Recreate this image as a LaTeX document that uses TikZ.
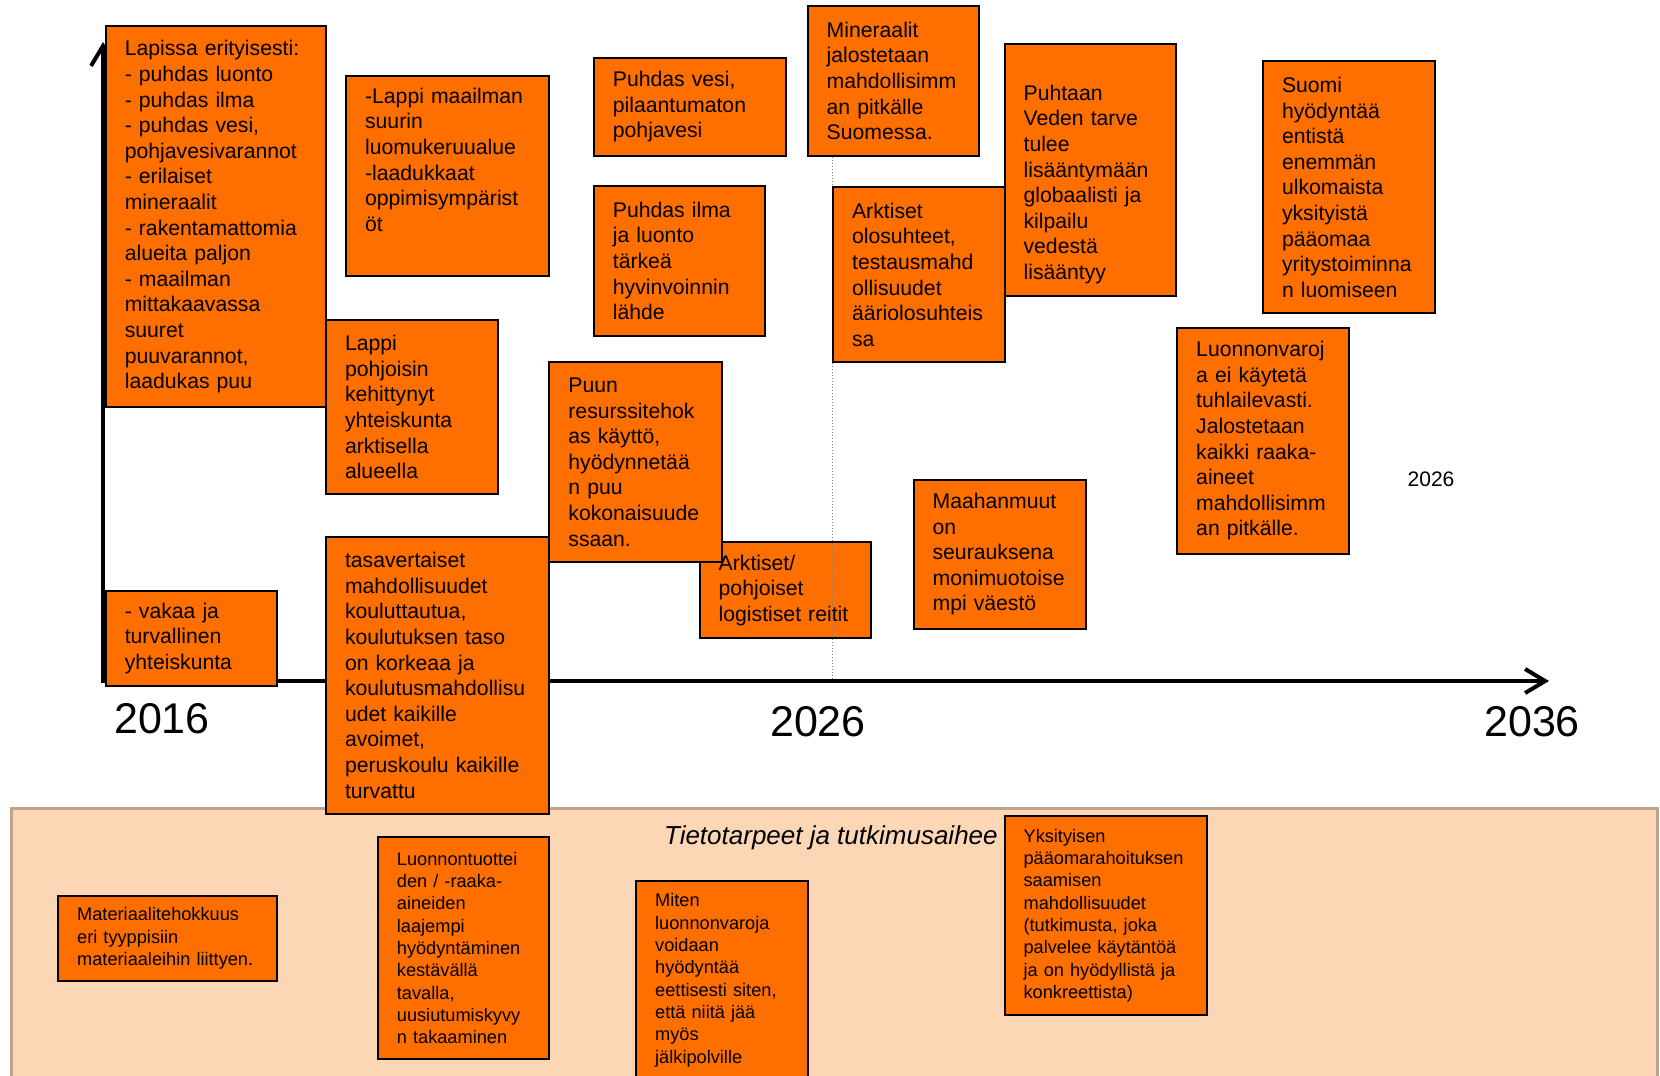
\documentclass[tikz,border=0pt]{standalone}
\usepackage{fontspec}
\setmainfont{Liberation Sans}
\usetikzlibrary{arrows.meta}

\definecolor{boxorange}{RGB}{255,111,0}
\definecolor{panelfill}{RGB}{253,214,182}
\definecolor{panelline}{RGB}{192,163,141}
\hyphenpenalty=10000
\exhyphenpenalty=10000

\tikzset{
  idea/.style={draw=black, line width=1pt, fill=boxorange, anchor=north west,
    inner xsep=1pt, inner ysep=0pt, align=left,
    font=\fontsize{10.6}{12.8}\selectfont,
    execute at begin node={\setlength{\leftskip}{8.5pt}}},
  need/.style={idea, font=\fontsize{9.1}{11.15}\selectfont},
  year/.style={anchor=base, font=\fontsize{21.5}{26}\selectfont},
  axisline/.style={line width=2pt, >={Straight Barb[length=10pt,width=12pt]}}
}

\begin{document}
\begin{tikzpicture}[x=0.5pt, y=-0.5pt]
  \useasboundingbox (0,0) rectangle (1660,1076);

  % lower panel
  \draw[panelline, fill=panelfill, line width=1.5pt] (11,808) rectangle (1657,1110);
  \node[anchor=west, font=\fontsize{13}{15}\selectfont\itshape] (tietotarpeet) at (657,838) {Tietotarpeet ja tutkimusaihee};

  % time axis
  \coordinate (origin) at (103,681);
  \coordinate (ytop) at (103,42);
  \coordinate (xend) at (1549,681);
  \draw[axisline, <->] (ytop) -- (origin) -- (xend);

  \node[year] (y2016) at (162,733) {2016};
  \node[year] (y2026) at (818,736) {2026};
  \node[year] (y2036) at (1532,736) {2036};
  \node[font=\fontsize{10.5}{12}\selectfont] (y2026b) at (1431,479) {2026};

  % boxes above the axis
  \node[idea, text width=108.1pt, minimum height=190.5pt] (lapissa) at (104.8,25.4)
    {Lapissa erityisesti:\\- puhdas luonto\\- puhdas ilma\\- puhdas vesi,\\pohjavesivarannot\\- erilaiset\\mineraalit\\- rakentamattomia\\alueita paljon\\- maailman\\mittakaavassa\\suuret\\puuvarannot,\\laadukas puu};
  \node[idea, text width=99.65pt, minimum height=100pt] (luomu) at (345.1,75.2)
    {-Lappi maailman\\suurin\\luomukeruualue\\-laadukkaat\\oppimisympärist\\öt\\\strut};
  \node[idea, text width=83.75pt, minimum height=87.35pt] (pohjoisin) at (325,318.7)
    {Lappi\\pohjoisin\\kehittynyt\\yhteiskunta\\arktisella\\alueella};
  \node[idea, text width=83.75pt, minimum height=47.65pt] (vakaa) at (104.8,589.7)
    {- vakaa ja\\turvallinen\\yhteiskunta};
  \node[idea, text width=109.7pt, minimum height=138.7pt] (koulutus) at (325,535.7)
    {tasavertaiset\\mahdollisuudet\\kouluttautua,\\koulutuksen taso\\on korkeaa ja\\koulutusmahdollisu\\udet kaikille\\avoimet,\\peruskoulu kaikille\\turvattu};
  \node[idea, text width=93.8pt, minimum height=48.7pt] (vesi) at (592.9,57.2)
    {Puhdas vesi,\\pilaantumaton\\pohjavesi};
  \node[idea, text width=83.75pt, minimum height=74.65pt] (ilma) at (592.9,185.3)
    {Puhdas ilma\\ja luonto\\tärkeä\\hyvinvoinnin\\lähde};
  \node[idea, text width=83.75pt, minimum height=48.15pt] (reitit) at (698.7,541)
    {Arktiset/\\pohjoiset\\logistiset reitit};
  \node[idea, text width=84.3pt, minimum height=100.05pt] (puu) at (548.4,361)
    {Puun\\resurssitehok\\as käyttö,\\hyödynnetää\\n puu\\kokonaisuude\\ssaan.};
  \node[idea, text width=83.75pt, minimum height=74.65pt] (mineraalit) at (806.7,5.3)
    {Mineraalit\\jalostetaan\\mahdollisimm\\an pitkälle\\Suomessa.};
  \node[idea, text width=83.75pt, minimum height=87.35pt] (olosuhteet) at (832.1,186.3)
    {Arktiset\\olosuhteet,\\testausmahd\\ollisuudet\\ääriolosuhteis\\sa};
  \node[idea, text width=83.75pt, minimum height=126pt] (veden) at (1003.6,43.4)
    {\strut\\Puhtaan\\Veden tarve\\tulee\\lisääntymään\\globaalisti ja\\kilpailu\\vedestä\\lisääntyy};
  \node[idea, text width=84.3pt, minimum height=74.65pt] (maahanmuutto) at (912.6,478.5)
    {Maahanmuut\\on\\seurauksena\\monimuotoise\\mpi väestö};
  \node[idea, text width=83.75pt, minimum height=112.75pt] (luonnonvarat) at (1176.2,327.1)
    {Luonnonvaroj\\a ei käytetä\\tuhlailevasti.\\Jalostetaan\\kaikki raaka-\\aineet\\mahdollisimm\\an pitkälle.};
  \node[idea, text width=83.75pt, minimum height=126pt] (paaoma) at (1262,60.3)
    {Suomi\\hyödyntää\\entistä\\enemmän\\ulkomaista\\yksityistä\\pääomaa\\yritystoiminna\\n luomiseen};

  \draw[gray, line width=0.5pt, densely dotted] (olosuhteet.north west |- mineraalit.south) -- (olosuhteet.north west);
  \draw[gray, line width=0.5pt, densely dotted] (olosuhteet.south west) -- (olosuhteet.south west |- origin);

  % research needs
  \node[need, text width=107.55pt, minimum height=42.9pt] (materiaali) at (57.2,894.6)
    {Materiaalitehokkuus\\eri tyyppisiin\\materiaaleihin liittyen.};
  \node[need, text width=83.75pt, minimum height=110.65pt] (luonnontuotteet) at (376.9,836.4)
    {Luonnontuottei\\den / -raaka-\\aineiden\\laajempi\\hyödyntäminen\\kestävällä\\tavalla,\\uusiutumiskyvy\\n takaaminen};
  \node[need, text width=83.75pt, minimum height=99.5pt] (eettisesti) at (635.2,879.8)
    {Miten\\luonnonvaroja\\voidaan\\hyödyntää\\eettisesti siten,\\että niitä jää\\myös\\jälkipolville};
  \node[need, text width=99.15pt, minimum height=99.5pt] (rahoitus) at (1003.6,815.2)
    {Yksityisen\\pääomarahoituksen\\saamisen\\mahdollisuudet\\(tutkimusta, joka\\palvelee käytäntöä\\ja on hyödyllistä ja\\konkreettista)};
\end{tikzpicture}
\end{document}
